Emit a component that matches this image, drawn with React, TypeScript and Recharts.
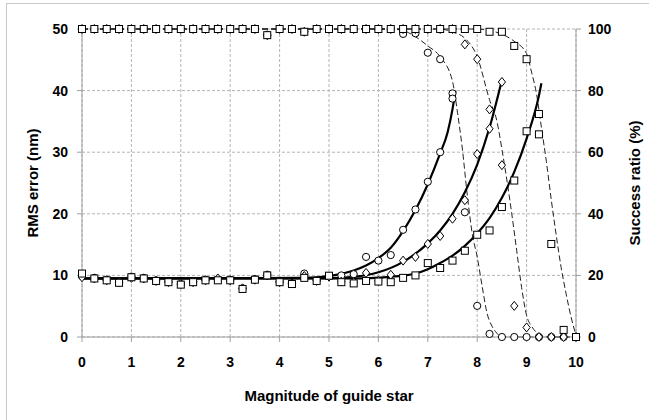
import React from 'react';
import { ComposedChart, CartesianGrid, XAxis, YAxis, Line, Scatter } from 'recharts';

// guide star magnitude, one measurement every 0.25 mag
const mags = [
	0, 0.25, 0.5, 0.75, 1, 1.25, 1.5, 1.75, 2, 2.25, 2.5, 2.75, 3, 3.25, 3.5, 3.75, 4, 4.25, 4.5, 4.75,
	5, 5.25, 5.5, 5.75, 6, 6.25, 6.5, 6.75, 7, 7.25, 7.5, 7.75, 8, 8.25, 8.5, 8.75, 9, 9.25, 9.5, 9.75, 10,
];

// RMS error (nm)
const rmsCircle = [
	9.9, 9.6, 9.3, 8.9, 9.8, 9.6, 9.2, 9.0, 8.6, 9.0, 9.3, 9.3, 9.3, 7.9, 9.4, 10.1, 9.0, 8.7, 10.3, 9.2,
	9.9, 10.0, 10.2, 13.0, 12.4, 13.3, 17.4, 20.7, 25.2, 30.0, 38.7, null, null, null, null, null, null, null, null, null, null,
];
const rmsDiamond = [
	9.7, 9.5, 9.2, 8.9, 9.6, 9.5, 9.1, 8.9, 8.6, 8.9, 9.2, 9.5, 9.2, 7.9, 9.3, 10.0, 8.9, 8.7, 9.9, 9.1,
	9.8, 9.0, 8.9, 10.4, 9.1, 10.1, 12.4, 13.0, 15.1, 16.4, 19.2, 22.2, 29.7, 33.8, 41.4, null, null, null, null, null, null,
];
const rmsSquare = [
	10.3, 9.5, 9.2, 8.8, 9.7, 9.5, 9.1, 8.9, 8.5, 8.9, 9.2, 9.2, 9.2, 7.8, 9.3, 10.0, 8.9, 8.6, 9.6, 9.1,
	9.95, 8.9, 8.7, 9.1, 9.0, 8.9, 9.6, 10.0, 12.0, 11.2, 12.4, 14.0, 16.6, 17.3, 21.1, 25.4, 33.4, 32.9, null, null, null,
];

// success ratio (%)
const succCircle = [
	100, 100, 100, 100, 100, 100, 100, 100, 100, 100, 100, 100, 100, 100, 100, 98, 100, 100, 99.1, 100,
	100, 100, 100, 100, 100, 100, 98.4, 98.6, 92.3, 90.2, 79.1, 40.5, 10.1, 1.0, 0, 0, 0, 0, 0, 0, 0,
];
const succDiamond = [
	100, 100, 100, 100, 100, 100, 100, 100, 100, 100, 100, 100, 100, 100, 100, 98, 100, 100, 99.1, 100,
	100, 100, 100, 100, 100, 100, 100, 100, 100, 100, 100, 95, 90.2, 73.9, 55.8, 10.1, 3.1, 0, 0, 0, 0,
];
const succSquare = [
	100, 100, 100, 100, 100, 100, 100, 100, 100, 100, 100, 100, 100, 100, 100, 98, 100, 100, 99.1, 100,
	100, 100, 100, 100, 100, 100, 100, 100, 100, 100, 100, 100, 100, 99.1, 99.1, 94.5, 90.2, 72.4, 30.2, 2.3, 0,
];

// fitted RMS curves (solid)
const fitCircleX = [0, 4.5, 5, 5.5, 5.75, 6, 6.25, 6.5, 6.75, 7, 7.25, 7.4, 7.5, 7.56];
const fitCircleY = [9.5, 9.6, 9.9, 10.8, 11.6, 12.8, 14.5, 17.2, 20.6, 24.8, 29.8, 33.2, 37.0, 40.0];
const fitDiamondX = [0, 5, 5.5, 6, 6.5, 7, 7.25, 7.5, 7.75, 8, 8.25, 8.5];
const fitDiamondY = [9.5, 9.55, 9.75, 10.5, 12.2, 15.2, 17.3, 20.0, 23.5, 28.0, 34.0, 41.7];
const fitSquareX = [0, 5.5, 6, 6.5, 6.75, 7, 7.25, 7.5, 7.75, 8, 8.25, 8.5, 8.75, 9, 9.25, 9.3];
const fitSquareY = [9.5, 9.5, 9.65, 9.95, 10.3, 11.0, 12.0, 13.2, 14.8, 16.8, 19.3, 22.6, 26.8, 32.2, 39.2, 41.2];

// success ratio model curves (dashed)
const dashCircleX = [0, 6.25, 6.5, 6.75, 7, 7.25, 7.5, 7.6, 7.7, 7.8, 7.9, 8, 8.1, 8.2, 8.3, 8.4, 8.5, 10];
const dashCircleY = [100, 100, 99.5, 97.5, 94.5, 91, 83, 73, 61, 46, 33.5, 26, 16.5, 7.7, 3.5, 1.2, 0, 0];
const dashDiamondX = [0, 7.25, 7.5, 7.75, 8, 8.25, 8.4, 8.5, 8.6, 8.7, 8.8, 8.9, 9, 9.1, 9.2, 9.3, 9.5, 10];
const dashDiamondY = [100, 100, 99, 97, 91, 77, 70, 61, 51, 40, 28, 16, 7, 3.5, 1.5, 0.4, 0, 0];
const dashSquareX = [0, 8, 8.25, 8.5, 8.75, 9, 9.1, 9.2, 9.3, 9.4, 9.5, 9.6, 9.7, 9.8, 9.9, 10];
const dashSquareY = [100, 100, 99.5, 98.3, 96, 92, 86, 79, 68, 57, 44.5, 33, 22.5, 14, 6.5, 0.5];

const xTicks = [0, 1, 2, 3, 4, 5, 6, 7, 8, 9, 10];
const leftTicks = [0, 10, 20, 30, 40, 50];
const rightTicks = [0, 20, 40, 60, 80, 100];

const toPoints = (xs: number[], ys: (number | null)[]) =>
	xs.map((x, i) => ({ x, y: ys[i] })).filter((p) => p.y !== null);

const FONT = '"Liberation Sans", Arial, sans-serif';
const tickStyle = { fontFamily: FONT, fontSize: 14, fontWeight: 700, fill: '#000' };
const titleStyle = { fontFamily: FONT, fontSize: 15, fontWeight: 700, fill: '#000' };

const CircleMark = (p: any) => (
	<circle cx={p.cx} cy={p.cy} r={3.6} fill="#fff" stroke="#000" strokeWidth={1} />
);
const SquareMark = (p: any) => (
	<rect x={p.cx - 3.5} y={p.cy - 3.5} width={7} height={7} fill="#fff" stroke="#000" strokeWidth={1} />
);
const DiamondMark = (p: any) => (
	<polygon
		points={`${p.cx},${p.cy - 4.5} ${p.cx + 3.6},${p.cy} ${p.cx},${p.cy + 4.5} ${p.cx - 3.6},${p.cy}`}
		fill="#fff"
		stroke="#000"
		strokeWidth={1}
	/>
);

const LeftTitle = () => (
	<text x={32} y={183} transform="rotate(-90 32 183)" textAnchor="middle" dominantBaseline="central" style={titleStyle}>
		RMS error (nm)
	</text>
);
const RightTitle = () => (
	<text x={634} y={183} transform="rotate(-90 634 183)" textAnchor="middle" dominantBaseline="central" style={titleStyle}>
		Success ratio (%)
	</text>
);
const BottomTitle = () => (
	<text x={329} y={395} textAnchor="middle" dominantBaseline="central" style={titleStyle}>
		Magnitude of guide star
	</text>
);

export default function App() {
	const dashProps = { stroke: '#222', strokeWidth: 1, strokeDasharray: '6 3', dot: false, activeDot: false, isAnimationActive: false, type: 'monotone' as const, yAxisId: 'right', dataKey: 'y' };
	const fitProps = { stroke: '#000', strokeWidth: 2.2, dot: false, activeDot: false, isAnimationActive: false, type: 'monotone' as const, yAxisId: 'left', dataKey: 'y' };

	return (
		<div style={{ position: 'absolute', left: 0, top: 0, width: 649, height: 420, background: '#fff' }}>
			<div style={{ position: 'absolute', left: 6, top: 3, right: 0, bottom: 0, borderLeft: '1px solid #c8c8c8', borderTop: '1px solid #c8c8c8' }} />
			<ComposedChart
				width={649}
				height={420}
				margin={{ top: 29, right: 28, bottom: 53, left: 0 }}
				style={{ position: 'absolute', left: 0, top: 0 }}
			>
				<CartesianGrid yAxisId="left" stroke="#b4b4b4" strokeDasharray="3 2" horizontalValues={leftTicks} verticalValues={xTicks} />
				<XAxis
					dataKey="x"
					type="number"
					domain={[0, 10]}
					ticks={xTicks}
					height={30}
					stroke="#a0a0a0"
					tickSize={5}
					tickMargin={15}
					tick={tickStyle}
					label={{ content: BottomTitle }}
				/>
				<YAxis
					yAxisId="left"
					type="number"
					domain={[0, 50]}
					ticks={leftTicks}
					width={82}
					stroke="#a0a0a0"
					tickSize={5}
					tickMargin={9}
					tick={tickStyle}
					label={{ content: LeftTitle }}
				/>
				<YAxis
					yAxisId="right"
					orientation="right"
					type="number"
					domain={[0, 100]}
					ticks={rightTicks}
					width={45}
					stroke="#a0a0a0"
					tickSize={5}
					tickMargin={7}
					tick={tickStyle}
					label={{ content: RightTitle }}
				/>

				<Line {...dashProps} data={toPoints(dashCircleX, dashCircleY)} />
				<Line {...dashProps} data={toPoints(dashDiamondX, dashDiamondY)} />
				<Line {...dashProps} data={toPoints(dashSquareX, dashSquareY)} />

				<Line {...fitProps} data={toPoints(fitCircleX, fitCircleY)} />
				<Line {...fitProps} data={toPoints(fitDiamondX, fitDiamondY)} />
				<Line {...fitProps} data={toPoints(fitSquareX, fitSquareY)} />

				<Scatter yAxisId="right" dataKey="y" data={toPoints(mags, succCircle)} shape={CircleMark} isAnimationActive={false} />
				<Scatter yAxisId="right" dataKey="y" data={toPoints(mags, succDiamond)} shape={DiamondMark} isAnimationActive={false} />
				<Scatter yAxisId="right" dataKey="y" data={toPoints(mags, succSquare)} shape={SquareMark} isAnimationActive={false} />

				<Scatter yAxisId="left" dataKey="y" data={toPoints(mags, rmsCircle)} shape={CircleMark} isAnimationActive={false} />
				<Scatter yAxisId="left" dataKey="y" data={toPoints(mags, rmsDiamond)} shape={DiamondMark} isAnimationActive={false} />
				<Scatter yAxisId="left" dataKey="y" data={toPoints(mags, rmsSquare)} shape={SquareMark} isAnimationActive={false} />
			</ComposedChart>
		</div>
	);
}
